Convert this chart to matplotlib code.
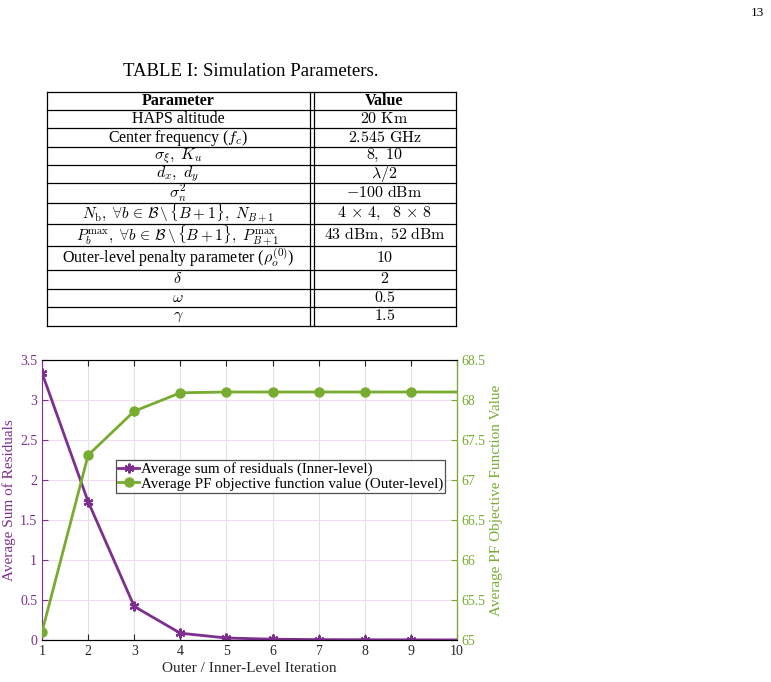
import numpy as np
import matplotlib
matplotlib.use('Agg')
import matplotlib.pyplot as plt
from matplotlib.lines import Line2D

plt.rcParams['font.family'] = ['Liberation Serif', 'DejaVu Serif']
plt.rcParams['mathtext.fontset'] = 'cm'

# table data
params = ['HAPS altitude',
          r'Center frequency ($f_c$)',
          r'$\sigma_\xi,\ K_u$',
          r'$d_x,\ d_y$',
          r'$\sigma_n^2$',
          r'$N_\mathrm{b},\ \forall b \,\in\, \mathcal{B}\,\backslash\,\{B+1\},\ N_{B+1}$',
          r'$P_b^{\mathrm{max}},\ \forall b \,\in\, \mathcal{B}\,\backslash\,\{B+1\},\ P_{B+1}^{\mathrm{max}}$',
          r'Outer-level penalty parameter ($\rho_o^{(0)}$)',
          r'$\delta$', r'$\omega$', r'$\gamma$']
values = [r'$20\ \mathrm{Km}$', r'$2.545\ \mathrm{GHz}$', r'$8,\ 10$', r'$\lambda/2$',
          r'$-100\ \mathrm{dBm}$', r'$4\,\times\,4,\ \ 8\,\times\,8$',
          r'$43\ \mathrm{dBm},\ 52\ \mathrm{dBm}$', r'$10$', r'$2$', r'$0.5$', r'$1.5$']

# chart data
iters = np.arange(1, 11)
residuals = [3.34, 1.73, 0.42, 0.085, 0.025, 0.01, 0.005, 0.003, 0.002, 0.001]
pf_obj = [65.1, 67.31, 67.86, 68.09, 68.1, 68.1, 68.1, 68.1, 68.1, 68.1]

purple = '#7E2F8E'
green = '#77AC30'

W, H = 771, 682
fig = plt.figure(figsize=(W / 100, H / 100), dpi=100)

def fx(px):
    return px / W

def fy(py):
    return 1 - py / H

fig.text(fx(757), fy(13), '13', fontsize=9.5, ha='center', va='center')
fig.text(fx(251), fy(71), 'TABLE I: Simulation Parameters.', fontsize=13.5,
         ha='center', va='center')

# table layout (pixels)
row_y = [92, 110, 128.3, 146.7, 165, 183, 203, 224.5, 246, 270, 288.5, 307.3, 325.7]
x_left, x_d1, x_d2, x_right = 46.5, 309.5, 313.5, 455.5
lw = 0.9
for y in row_y:
    fig.add_artist(Line2D([fx(x_left), fx(x_right)], [fy(y), fy(y)], color='black', lw=lw))
for x in [x_left, x_d1, x_d2, x_right]:
    fig.add_artist(Line2D([fx(x), fx(x)], [fy(row_y[0]), fy(row_y[-1])], color='black', lw=lw))

c1 = (x_left + x_d1) / 2
c2 = (x_d2 + x_right) / 2
fig.text(fx(c1), fy((row_y[0] + row_y[1]) / 2), 'Parameter', fontsize=11.5,
         fontweight='bold', ha='center', va='center')
fig.text(fx(c2), fy((row_y[0] + row_y[1]) / 2), 'Value', fontsize=11.5,
         fontweight='bold', ha='center', va='center')
for i, (p, v) in enumerate(zip(params, values)):
    yc = (row_y[i + 1] + row_y[i + 2]) / 2
    fs = 11 if 'forall' in p else 11.5
    fig.text(fx(c1), fy(yc), p, fontsize=fs, ha='center', va='center')
    fig.text(fx(c2), fy(yc), v, fontsize=11.5, ha='center', va='center')

# chart
ax = fig.add_axes([fx(42), fy(640), fx(457) - fx(42), (640 - 360) / H])
ax2 = ax.twinx()

l1, = ax.plot(iters, residuals, color=purple, lw=2, marker=(6, 2, 0), ms=7,
              mew=1.6, markevery=list(range(9)),
              label='Average sum of residuals (Inner-level)')
l2, = ax2.plot(iters, pf_obj, color=green, lw=2, marker='o', ms=6.5,
               markevery=list(range(9)),
               label='Average PF objective function value (Outer-level)')

ax.set_xlim(1, 10)
ax.set_ylim(0, 3.5)
ax2.set_ylim(65, 68.5)
ax.set_xticks(range(1, 11))
ax.set_yticks(np.arange(0, 3.6, 0.5))
ax.set_yticklabels(['0', '0.5', '1', '1.5', '2', '2.5', '3', '3.5'])
ax2.set_yticks(np.arange(65, 68.6, 0.5))
ax2.set_yticklabels(['65', '65.5', '66', '66.5', '67', '67.5', '68', '68.5'])

ax.xaxis.grid(True, color='#e2e2e2', lw=0.8)
ax.yaxis.grid(True, color='#efdcf0', lw=0.8)
ax.set_axisbelow(True)

ax.tick_params(axis='x', direction='in', top=True, labelsize=10, colors='#262626', length=4)
ax.tick_params(axis='y', direction='in', colors=purple, labelsize=10, length=4)
ax2.tick_params(axis='y', direction='in', colors=green, labelsize=10, length=4)
ax.spines['left'].set_color(purple)
ax2.spines['right'].set_color(green)
ax2.spines['left'].set_visible(False)
for s in ['top', 'bottom']:
    ax.spines[s].set_color('#262626')

ax.set_xlabel('Outer / Inner-Level Iteration', fontsize=11, color='#262626', labelpad=3)
ax.set_ylabel('Average Sum of Residuals', fontsize=11, color=purple, labelpad=3)
ax2.set_ylabel('Average PF Objective Function Value', fontsize=11, color=green, labelpad=3)

leg = ax2.legend(handles=[l1, l2], loc='upper right', bbox_to_anchor=(0.972, 0.643),
                 fontsize=10.8, frameon=True, fancybox=False, edgecolor='#262626',
                 handlelength=1.4, handletextpad=0.1, borderpad=0.15,
                 labelspacing=0.05, borderaxespad=0)
leg.get_frame().set_linewidth(0.9)

fig.savefig('out.png', dpi=100)
